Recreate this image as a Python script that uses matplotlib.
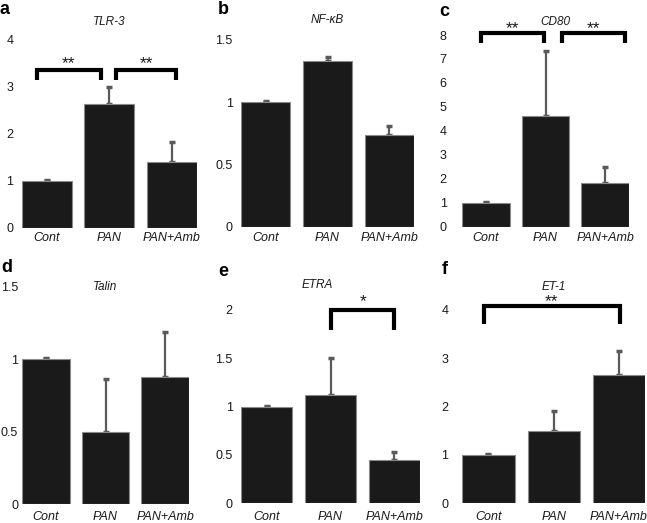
import matplotlib
matplotlib.use("Agg")
import matplotlib.pyplot as plt
import matplotlib.transforms as mtransforms

plt.rcParams['font.family'] = ['Liberation Sans', 'DejaVu Sans']

categories = ["Cont", "PAN", "PAN+Amb"]

tlr3_vals = [1.0, 2.64, 1.41]
tlr3_err = [0.01, 0.35, 0.42]
nfkb_vals = [1.0, 1.335, 0.737]
nfkb_err = [0.006, 0.032, 0.073]
cd80_vals = [1.0, 4.62, 1.81]
cd80_err = [0.03, 2.72, 0.67]
talin_vals = [1.0, 0.50, 0.876]
talin_err = [0.006, 0.362, 0.314]
etra_vals = [1.0, 1.12, 0.448]
etra_err = [0.006, 0.38, 0.086]
et1_vals = [1.0, 1.50, 2.66]
et1_err = [0.012, 0.40, 0.49]

titles = ["TLR-3", "NF-\u03baB", "CD80", "Talin", "ETRA", "ET-1"]
letters = ["a", "b", "c", "d", "e", "f"]
yticks_list = [
    [0, 1, 2, 3, 4],
    [0, 0.5, 1, 1.5],
    [0, 1, 2, 3, 4, 5, 6, 7, 8],
    [0, 0.5, 1, 1.5],
    [0, 0.5, 1, 1.5, 2],
    [0, 1, 2, 3, 4],
]
ytick_labels = [
    ["0", "1", "2", "3", "4"],
    ["0", "0.5", "1", "1.5"],
    ["0", "1", "2", "3", "4", "5", "6", "7", "8"],
    ["0", "0.5", "1", "1.5"],
    ["0", "0.5", "1", "1.5", "2"],
    ["0", "1", "2", "3", "4"],
]
# significance brackets: (x_start, x_end, y_top, y_leg, star_y, label)
brackets = [
    [(-0.16, 0.87, 3.37, 3.14, 3.57, "**"), (1.11, 2.07, 3.37, 3.14, 3.57, "**")],
    [],
    [(-0.08, 0.98, 8.1, 7.65, 8.4, "**"), (1.27, 2.33, 8.1, 7.65, 8.4, "**")],
    [],
    [(1.01, 2.0, 2.0, 1.79, 2.12, "*")],
    [(-0.07, 2.01, 4.09, 3.71, 4.24, "**")],
]

values = [tlr3_vals, nfkb_vals, cd80_vals, talin_vals, etra_vals, et1_vals]
errors = [tlr3_err, nfkb_err, cd80_err, talin_err, etra_err, et1_err]

W, H = 647, 523
fig = plt.figure(figsize=(W / 100, H / 100), dpi=100)

# layout in pixels: left, right, top, bottom
boxes = [
    (21.7, 196.7, 40, 227.7),
    (241, 414, 40, 226.7),
    (462, 629, 35, 226.7),
    (21.7, 189.3, 286.7, 504.3),
    (241, 420, 310, 503.3),
    (462.3, 645, 310, 503.3),
]
pads = [6, 6, 11, 2.5, 6, 10]
title_x = [1.0, 1.0, 1.16, 1.0, 0.8, 1.0]
title_y = [22, 20, 22, 287, 285, 287]
letter_pos = [(4, 10), (223, 10), (444, 11), (7, 268), (223, 272), (445, 270)]
label_y = [238, 238, 238, 517, 517, 517]

for i in range(6):
    l, r, t, b = boxes[i]
    ax = fig.add_axes([l / W, (H - b) / H, (r - l) / W, (b - t) / H])
    x = list(range(len(categories)))
    ax.bar(x, values[i], width=0.8, color="#1a1a1a", edgecolor="#8a8a8a",
           linewidth=0.8, zorder=2)
    ax.errorbar(x, values[i], yerr=[[0] * 3, errors[i]], fmt="none",
                ecolor="#5a5a5a", elinewidth=1.6, capsize=2.0, capthick=2.5,
                zorder=1)
    ax.set_xlim(-0.4, 2.4)
    ax.set_ylim(0, yticks_list[i][-1])
    ax.set_yticks(yticks_list[i])
    ax.set_yticklabels(ytick_labels[i], fontsize=9, color="#1a1a1a")
    ax.set_xticks([])
    ax.tick_params(axis="y", length=0, pad=pads[i])
    for s in ax.spines.values():
        s.set_visible(False)
    ax.patch.set_alpha(0)

    trans = mtransforms.blended_transform_factory(ax.transData, fig.transFigure)
    for j, c in enumerate(categories):
        ax.text(j, (H - label_y[i]) / H, c, transform=trans, ha="center",
                va="center", fontsize=9, style="italic", color="#1a1a1a")
    ax.text(title_x[i], (H - title_y[i]) / H, titles[i], transform=trans,
            ha="center", va="center", fontsize=8.5, style="italic",
            color="#1a1a1a")
    star_trans = mtransforms.offset_copy(ax.transData, fig=fig, y=-5.5,
                                         units="points")
    for (x1, x2, yt, yl, ys, lab) in brackets[i]:
        ax.plot([x1, x1, x2, x2], [yl, yt, yt, yl], color="black", lw=3,
                solid_joinstyle="miter", solid_capstyle="butt", clip_on=False)
        ax.text((x1 + x2) / 2, ys, lab, transform=star_trans, ha="center",
                va="baseline", fontsize=12.5, color="#1a1a1a", clip_on=False)

for i in range(6):
    lx, ly = letter_pos[i]
    fig.text(lx / W, (H - ly) / H, letters[i], ha="center", va="center",
             fontsize=13, fontweight="bold", color="black")

fig.savefig("out.png", dpi=100)
